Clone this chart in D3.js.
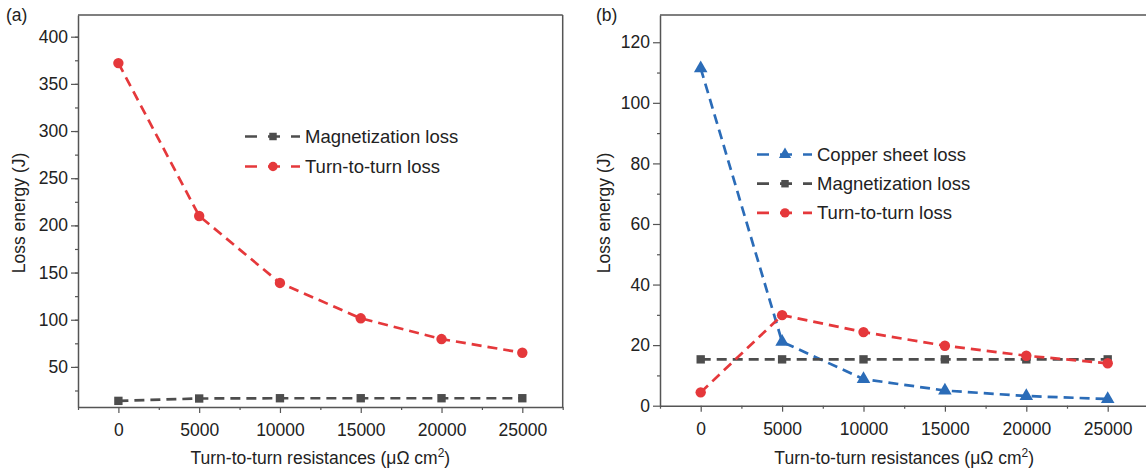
<!DOCTYPE html>
<head>
    <meta charset="utf-8">
    <script src="https://d3js.org/d3.v7.min.js"></script>
    <style>
        body { margin: 0; background: #fff; }
        text { font-family: "Liberation Sans", Arial, sans-serif; fill: #222; }
    </style>
</head>
<body>
<div id="my_dataviz"></div>

<script>
// data
var resistance = [0, 5000, 10000, 15000, 20000, 25000];
var xTicks = [0, 5000, 10000, 15000, 20000, 25000];

// panel (a)
var magLossA = [14, 16.5, 16.8, 16.8, 16.8, 16.8];
var turnLossA = [372, 210, 139, 101.5, 79.5, 65];
var yTicksA = [50, 100, 150, 200, 250, 300, 350, 400];

// panel (b)
var copperLossB = [111.4, 21.1, 8.8, 5.0, 3.2, 2.2];
var magLossB = [15.3, 15.3, 15.3, 15.3, 15.3, 15.3];
var turnLossB = [4.4, 29.9, 24.3, 19.8, 16.5, 14.0];
var yTicksB = [0, 20, 40, 60, 80, 100, 120];

var red = "#e5383b", grey = "#4d4d4d", blue = "#2b6cb8", frame = "#555";

var svg = d3.select("#my_dataviz")
    .append("svg")
    .attr("width", 1146)
    .attr("height", 471);

function drawPanel(opt) {
    var x = d3.scaleLinear().domain([-2500, 27500]).range(opt.xr);
    var y = d3.scaleLinear().domain(opt.yd).range(opt.yr);
    var g = svg.append("g");

    // frame (top + right)
    g.append("line").attr("x1", opt.xr[0]).attr("x2", opt.xr[1])
        .attr("y1", opt.yr[1]).attr("y2", opt.yr[1])
        .attr("stroke", frame).attr("stroke-width", 1.5);
    g.append("line").attr("x1", opt.xr[1]).attr("x2", opt.xr[1])
        .attr("y1", opt.yr[0]).attr("y2", opt.yr[1])
        .attr("stroke", frame).attr("stroke-width", 1.5);

    // x axis, minor then major
    var xMinor = d3.range(-2500, 27501, 5000);
    g.append("g")
        .attr("transform", "translate(0," + opt.yr[0] + ")")
        .call(d3.axisBottom(x).tickValues(xMinor).tickSize(3).tickFormat(""))
        .call(function(a) { a.select(".domain").remove(); });
    var xa = g.append("g")
        .attr("transform", "translate(0," + opt.yr[0] + ")")
        .call(d3.axisBottom(x).tickValues(xTicks).tickSize(6).tickSizeOuter(0).tickPadding(11).tickFormat(d3.format("d")));
    xa.selectAll("text").style("font-size", "17.5px").style("fill", "#222");

    // y axis
    var yMinor = d3.range(opt.minorStart, opt.yd[1], opt.minorStep);
    g.append("g")
        .attr("transform", "translate(" + opt.xr[0] + ",0)")
        .call(d3.axisLeft(y).tickValues(yMinor).tickSize(3).tickFormat(""))
        .call(function(a) { a.select(".domain").remove(); });
    var ya = g.append("g")
        .attr("transform", "translate(" + opt.xr[0] + ",0)")
        .call(d3.axisLeft(y).tickValues(opt.yTicks).tickSize(7).tickSizeOuter(0).tickPadding(3));
    ya.selectAll("text").style("font-size", "17.5px").style("fill", "#222");

    g.selectAll(".domain").attr("stroke", frame).attr("stroke-width", 1.5);
    g.selectAll(".tick line").attr("stroke", frame).attr("stroke-width", 1.2);

    // titles
    g.append("text")
        .attr("x", (x(0) + x(25000)) / 2).attr("y", 464)
        .attr("text-anchor", "middle").style("font-size", "17.5px")
        .html("Turn-to-turn resistances (μΩ cm<tspan dy='-7' font-size='12'>2</tspan><tspan dy='7'>)</tspan>");
    g.append("text")
        .attr("transform", "translate(" + opt.ytx + ",213) rotate(-90)")
        .attr("text-anchor", "middle").style("font-size", "17.5px")
        .text("Loss energy (J)");
    g.append("text").attr("x", opt.tagX).attr("y", 21).style("font-size", "17.5px").text(opt.tag);

    var line = d3.line()
        .x(function(d) { return x(d[0]); })
        .y(function(d) { return y(d[1]); });

    opt.series.forEach(function(s) {
        var pts = resistance.map(function(r, i) { return [r, s.values[i]]; });
        g.append("path").datum(pts)
            .attr("d", line)
            .attr("fill", "none").attr("stroke", s.color)
            .attr("stroke-width", 2.7).attr("stroke-dasharray", "10,6");
        g.selectAll(null).data(pts).enter().append("path")
            .attr("transform", function(d) { return "translate(" + x(d[0]) + "," + y(d[1]) + ")"; })
            .attr("d", d3.symbol().type(s.symbol).size(s.size))
            .attr("fill", s.color);
    });

    // legend
    var lg = g.append("g");
    opt.series.forEach(function(s, i) {
        var ly = opt.legY + i * opt.legStep;
        lg.append("line")
            .attr("x1", opt.legX).attr("x2", opt.legX + 56)
            .attr("y1", ly).attr("y2", ly)
            .attr("stroke", s.color).attr("stroke-width", 2.7)
            .attr("stroke-dasharray", "12,11,12,11,9");
        lg.append("path")
            .attr("transform", "translate(" + (opt.legX + 28) + "," + ly + ")")
            .attr("d", d3.symbol().type(s.symbol).size(s.size * 0.8))
            .attr("fill", s.color);
        lg.append("text")
            .attr("x", opt.legX + 60).attr("y", ly + 6.5)
            .style("font-size", "18.5px")
            .text(s.name);
    });
}

drawPanel({
    xr: [78, 562.7], yd: [7.5, 423], yr: [407, 15],
    yTicks: yTicksA, minorStart: 25, minorStep: 25,
    ytx: 25, tag: "(a)", tagX: 6,
    legX: 245, legY: 136.5, legStep: 30,
    series: [
        { name: "Magnetization loss", values: magLossA, color: grey, symbol: d3.symbolSquare, size: 70 },
        { name: "Turn-to-turn loss", values: turnLossA, color: red, symbol: d3.symbolCircle, size: 85 }
    ]
});

drawPanel({
    xr: [660, 1148.4], yd: [0, 129], yr: [405.7, 15],
    yTicks: yTicksB, minorStart: 10, minorStep: 20,
    ytx: 610, tag: "(b)", tagX: 596,
    legX: 757, legY: 154.5, legStep: 29.2,
    series: [
        { name: "Copper sheet loss", values: copperLossB, color: blue, symbol: d3.symbolTriangle, size: 80 },
        { name: "Magnetization loss", values: magLossB, color: grey, symbol: d3.symbolSquare, size: 70 },
        { name: "Turn-to-turn loss", values: turnLossB, color: red, symbol: d3.symbolCircle, size: 85 }
    ]
});
</script>
</body>
